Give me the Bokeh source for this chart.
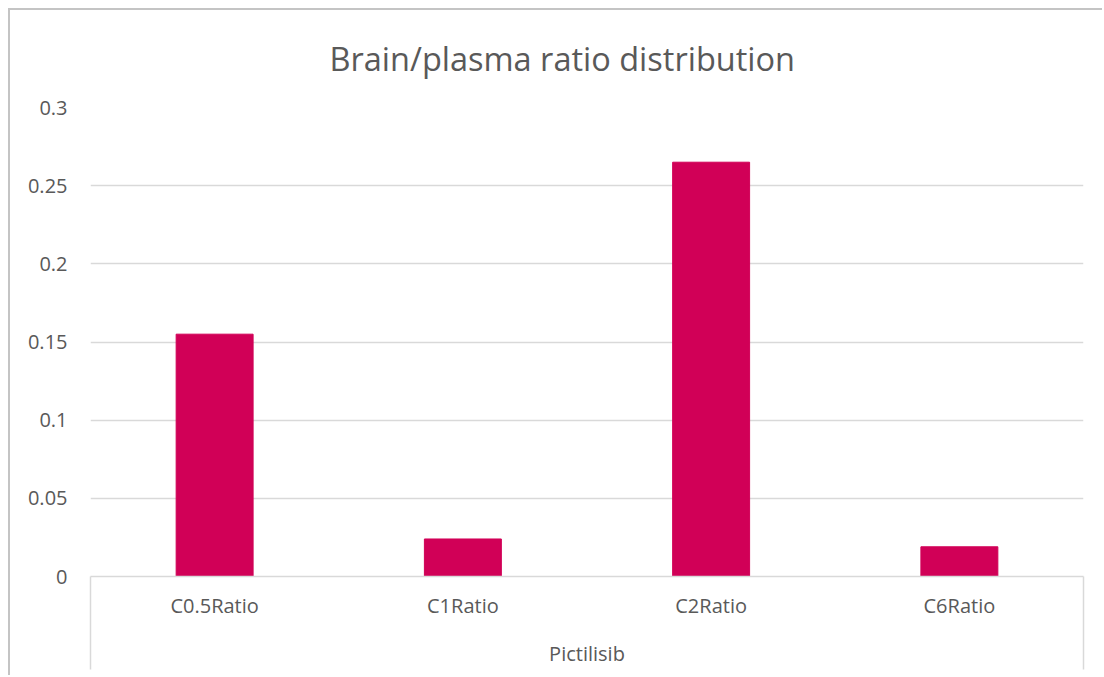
from bokeh.plotting import figure
from bokeh.models import Range1d, FixedTicker, NumeralTickFormatter, LinearAxis
from bokeh.embed import file_html
from bokeh.resources import INLINE

group = "Pictilisib"
categories = ["C0.5Ratio", "C1Ratio", "C2Ratio", "C6Ratio"]
ratios = [0.155, 0.024, 0.265, 0.019]
y_ticks = [0, 0.05, 0.1, 0.15, 0.2, 0.25, 0.3]
title_text = "Brain/plasma ratio distribution"

FONT = "Open Sans"
TXT = "#595959"
GRID = "#d9d9d9"
BAR = "#d10057"

n = len(categories)
centres = [i + 0.5 for i in range(n)]

p = figure(
    x_range=Range1d(0, n),
    y_range=Range1d(0, 0.3),
    width=1094, height=667,
    output_backend="svg", toolbar_location=None,
    x_axis_location=None,
    min_border_left=80, min_border_right=21, min_border_top=97, min_border_bottom=101,
)
p.styles = {"margin-left": "8px", "margin-top": "8px",
            "border-top": "2px solid #c4c4c4", "border-left": "2px solid #c4c4c4"}
p.outline_line_color = None
p.background_fill_color = "white"
p.border_fill_color = "white"

p.title.text = title_text
p.title.text_font = FONT
p.title.text_font_size = "32.5px"
p.title.text_font_style = "normal"
p.title.text_color = TXT
p.title.align = "left"
p.title.offset = 239
p.title.standoff = 50
p.title.vertical_align = "top"

p.vbar(x=centres, top=ratios, width=0.31, color=BAR)

# y axis
p.yaxis.ticker = FixedTicker(ticks=y_ticks)
p.yaxis.formatter = NumeralTickFormatter(format="0.[00]")
p.yaxis.axis_line_color = None
p.yaxis.major_tick_line_color = None
p.yaxis.minor_tick_line_color = None
p.yaxis.major_tick_out = 0
p.yaxis.major_label_standoff = 23
p.yaxis.major_label_text_font = FONT
p.yaxis.major_label_text_font_size = "20px"
p.yaxis.major_label_text_color = TXT

p.ygrid.ticker = FixedTicker(ticks=y_ticks)
p.ygrid.grid_line_color = GRID
p.ygrid.grid_line_width = 1.3
p.xgrid.grid_line_color = None

# category axis: labels at category centres, long minor ticks at the group boundaries
xaxis = LinearAxis(
    ticker=FixedTicker(ticks=centres, minor_ticks=[0, n]),
    major_label_overrides={c: lab for c, lab in zip(centres, categories)},
    axis_label=group,
)
xaxis.axis_line_color = GRID
xaxis.axis_line_width = 1.5
xaxis.major_tick_line_color = None
xaxis.major_tick_out = 0
xaxis.major_tick_in = 0
xaxis.minor_tick_in = 0
xaxis.minor_tick_out = 93
xaxis.minor_tick_line_color = GRID
xaxis.minor_tick_line_width = 1.5
xaxis.major_label_standoff = -78
xaxis.major_label_text_font = FONT
xaxis.major_label_text_font_size = "20px"
xaxis.major_label_text_color = TXT
xaxis.axis_label_text_font = FONT
xaxis.axis_label_text_font_size = "20px"
xaxis.axis_label_text_font_style = "normal"
xaxis.axis_label_text_color = TXT
xaxis.axis_label_standoff = 18
p.add_layout(xaxis, "below")

open("out.html", "w").write(file_html(p, INLINE))
